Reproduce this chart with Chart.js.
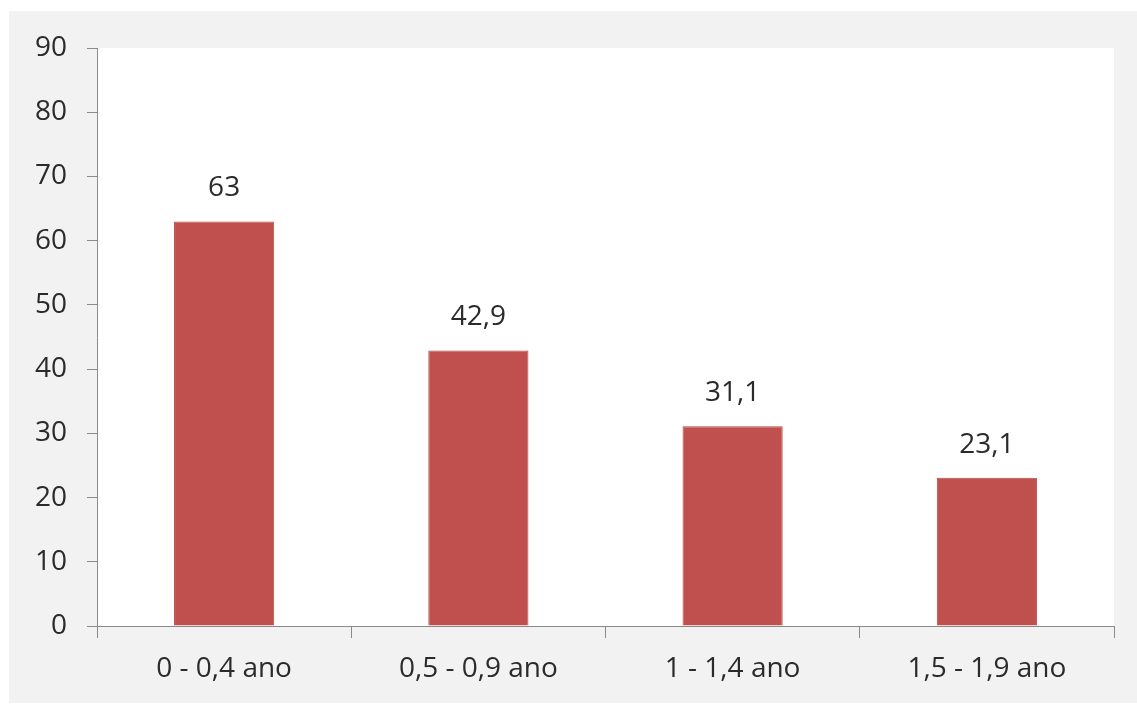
<!DOCTYPE html>
<html>
<head>
<meta charset="utf-8">
<script src="https://cdn.jsdelivr.net/npm/chart.js@4/dist/chart.umd.min.js"></script>
<style>
  html, body { margin: 0; padding: 0; background: #ffffff; }
  #wrap { width: 1137px; height: 704px; }
</style>
</head>
<body>
<div id="wrap"><canvas id="myChart" width="1137" height="704"></canvas></div>
<script>
var categorias = ['0 - 0,4 ano', '0,5 - 0,9 ano', '1 - 1,4 ano', '1,5 - 1,9 ano'];
var valores = [63, 42.9, 31.1, 23.1];
var etiquetas = ['63', '42,9', '31,1', '23,1'];
var yMin = 0, yMax = 90, yPaso = 10;

var fuente = '"Open Sans", Lato, sans-serif';
var tamTexto = 28;
var colorTexto = '#2b2b2b';
var colorEje = '#8a8a8a';

// fondo gris exterior y area de trazado blanca
var fondo = {
    id: 'fondo',
    beforeDraw: function (chart) {
        var ctx = chart.ctx;
        var a = chart.chartArea;
        ctx.save();
        ctx.fillStyle = '#f2f2f2';
        ctx.fillRect(9, 11, chart.width - 9, chart.height - 12);
        ctx.fillStyle = '#ffffff';
        ctx.fillRect(a.left, a.top, a.right - a.left, a.bottom - a.top);
        ctx.restore();
    }
};

// valores encima de cada barra
var etiquetasBarras = {
    id: 'etiquetasBarras',
    afterDatasetsDraw: function (chart) {
        var ctx = chart.ctx;
        var meta = chart.getDatasetMeta(0);
        ctx.save();
        ctx.font = tamTexto + 'px ' + fuente;
        ctx.fillStyle = colorTexto;
        ctx.textAlign = 'center';
        ctx.textBaseline = 'middle';
        meta.data.forEach(function (bar, i) {
            ctx.fillText(etiquetas[i], bar.x, bar.y - 33);
        });
        ctx.restore();
    }
};

var ctx = document.getElementById('myChart').getContext('2d');
var myChart = new Chart(ctx, {
    type: 'bar',
    data: {
        labels: categorias,
        datasets: [{
            data: valores,
            backgroundColor: '#c0504d',
            borderColor: '#b84a47',
            borderWidth: 1,
            barPercentage: 0.394,
            categoryPercentage: 1
        }]
    },
    options: {
        responsive: false,
        animation: false,
        layout: { padding: { left: 0, top: 48, right: 23, bottom: 0 } },
        plugins: {
            legend: { display: false },
            tooltip: { enabled: false }
        },
        scales: {
            x: {
                grid: {
                    drawOnChartArea: false,
                    drawTicks: true,
                    tickLength: 12,
                    color: colorEje,
                    offset: true
                },
                border: { display: true, color: colorEje, width: 1 },
                ticks: {
                    font: { family: fuente, size: tamTexto },
                    color: colorTexto,
                    padding: 14,
                    maxRotation: 0
                },
                afterFit: function (scale) { scale.height = 78; }
            },
            y: {
                min: yMin,
                max: yMax,
                grid: {
                    drawOnChartArea: false,
                    drawTicks: true,
                    tickLength: 10,
                    color: colorEje
                },
                border: { display: true, color: colorEje, width: 1 },
                ticks: {
                    stepSize: yPaso,
                    font: { family: fuente, size: tamTexto },
                    color: colorTexto,
                    padding: 20
                },
                afterFit: function (scale) { scale.width = 97; }
            }
        }
    },
    plugins: [fondo, etiquetasBarras]
});
</script>
</body>
</html>
